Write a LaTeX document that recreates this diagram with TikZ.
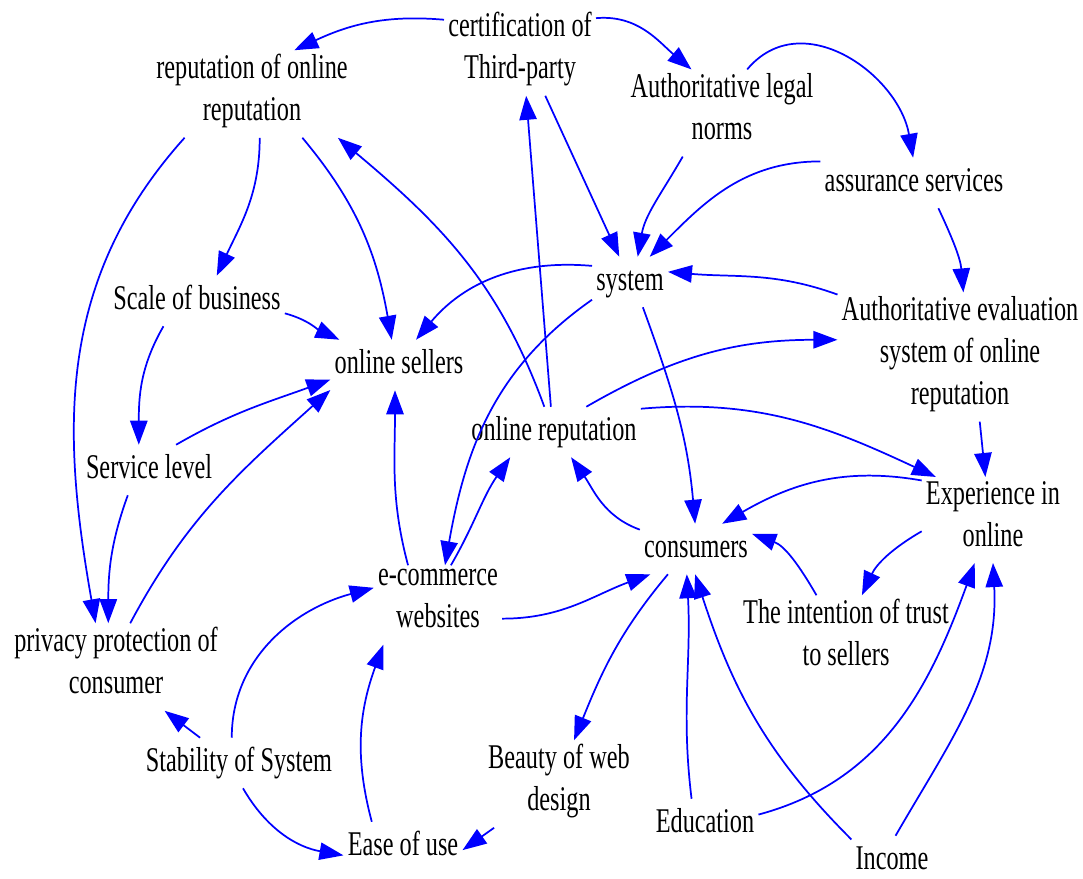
\documentclass[tikz,border=0pt]{standalone}
\usepackage{fontspec}
\setmainfont{Liberation Serif}[FakeStretch=0.70]
\usetikzlibrary{arrows.meta}

\begin{document}
\begin{tikzpicture}[x=0.75pt,y=-0.75pt,
  var/.style={align=center,inner sep=3pt,font=\fontsize{26}{31.5}\selectfont,
    execute at begin node=\strut,execute at end node=\strut},
  link/.style={draw=blue,line width=1.3pt,-{Triangle[length=18pt,width=13pt]}}]
\useasboundingbox (0,0) rectangle (1083,879);

\node[var] (cert) at (520,52) {certification of\\Third-party};
\node[var] (repon) at (252,94) {reputation of online\\reputation};
\node[var] (legal) at (722,113) {Authoritative legal\\norms};
\node[var] (assur) at (914,183) {assurance services};
\node[var] (system) at (630,282) {system};
\node[var] (aeval) at (960,357) {Authoritative evaluation\\system of online\\reputation};
\node[var] (scale) at (197,301) {Scale of business};
\node[var] (sellers) at (399,365) {online sellers};
\node[var] (onrep) at (554,432) {online reputation};
\node[var] (service) at (149,470) {Service level};
\node[var] (exper) at (993,520) {Experience in\\online};
\node[var] (consumers) at (696,549) {consumers};
\node[var] (ecom) at (438,605) {e-commerce\\websites};
\node[var] (intent) at (846,639) {The intention of trust\\to sellers};
\node[var] (privacy) at (116,667) {privacy protection of\\consumer};
\node[var] (stability) at (239,763) {Stability of System};
\node[var] (beauty) at (559,784) {Beauty of web\\design};
\node[var] (ease) at (403,847) {Ease of use};
\node[var] (education) at (705,824) {Education};
\node[var] (income) at (892,861) {Income};

\path[link] (cert.157) to[out=175,in=25] (repon.46);
\path[link] (cert.24) to[out=5,in=140] (legal.125);
\path[link] (onrep.97) -- (cert.278);
\path[link] (cert.300) -- (system.113);

\path[link] (legal.60) to[out=50,in=100,looseness=1.15] (assur.92);
\path[link] (legal.228) to[out=240,in=80] (system.73);
\path[link] (assur.167) to[out=180,in=45] (system.52);
\path[link] (assur.314) to[out=-65,in=95] (aeval.87);
\path[link] (aeval.153) to[out=160,in=-5] (system.15);
\path[link] (onrep.38) to[out=30,in=180] (aeval.172);
\path[link] (onrep.15) to[out=5,in=155] (exper.143);
\path[link] (aeval.287) -- (exper.100);

\path[link] (repon.280) to[out=-90,in=65] (scale.52);
\path[link] (repon.319) to[out=-50,in=100] (sellers.106);
\path[link] (repon.213) to[out=228,in=100] (privacy.115);
\path[link] (onrep.111) to[out=110,in=-40] (repon.333);
\path[link] (system.157) to[out=175,in=50] (sellers.56);
\path[link] (system.205) to[out=215,in=80] (ecom.80);
\path[link] (system.297) to[out=-70,in=95] (consumers.92);

\path[link] (scale.352) to[out=-15,in=155] (sellers.157);
\path[link] (scale.217) to[out=240,in=90] (service.112);
\path[link] (service.43) to[out=30,in=200] (sellers.192);
\path[link] (service.230) to[out=-110,in=90] (privacy.100);
\path[link] (privacy.72) to[out=62,in=222] (sellers.200);
\path[link] (ecom.127) to[out=105,in=-90] (sellers.261);
\path[link] (ecom.72) to[out=60,in=235] (onrep.210);
\path[link] (consumers.161) to[out=160,in=-55] (onrep.304);
\path[link] (ecom.348) to[out=0,in=200] (consumers.209);

\path[link] (consumers.222) to[out=230,in=68] (beauty.71);
\path[link] (exper.151) to[out=170,in=30] (consumers.44);
\path[link] (exper.189) to[out=210,in=65] (intent.70);
\path[link] (intent.124) to[out=120,in=-20] (consumers.15);
\path[link] (education.118) to[out=97,in=-87] (consumers.250);
\path[link] (education.10) to[out=15,in=250] (exper.247);
\path[link] (income.152) to[out=135,in=-72] (consumers.268);
\path[link] (income.82) to[out=60,in=-87] (exper.270);

\path[link] (stability.147) -- (privacy.318);
\path[link] (stability.106) to[out=90,in=195] (ecom.165);
\path[link] (stability.279) to[out=-60,in=170] (ease.188);
\path[link] (ease.141) to[out=105,in=-110] (ecom.216);
\path[link] (beauty.214) -- (ease.357);
\end{tikzpicture}
\end{document}
